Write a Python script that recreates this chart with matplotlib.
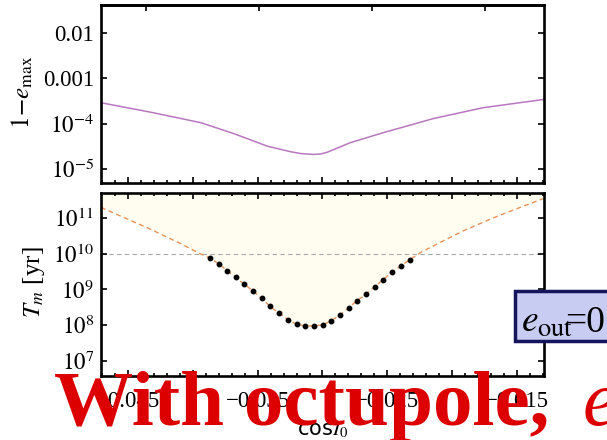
import numpy as np
import matplotlib
matplotlib.use("Agg")
import matplotlib.pyplot as plt
from matplotlib.patches import Rectangle
from matplotlib.ticker import FixedLocator, FixedFormatter, NullFormatter, LogLocator

plt.rcParams['font.family'] = ['Liberation Serif', 'DejaVu Serif']
plt.rcParams['mathtext.fontset'] = 'stix'

# upper panel: 1 - e_max vs cos I0
cos_top = [-0.04708, -0.04323, -0.03938, -0.03685, -0.03423, -0.03246, -0.03169,
           -0.03069, -0.03015, -0.02962, -0.02877, -0.02785, -0.02531, -0.02146, -0.01762, -0.01300]
log_emax = [-3.54, -3.75, -3.98, -4.22, -4.50, -4.62, -4.66,
            -4.68, -4.67, -4.63, -4.53, -4.42, -4.20, -3.89, -3.65, -3.47]

# lower panel: timescale curve (dashed) and sampled points (dots)
cos_curve = [-0.04708, -0.04685, -0.04323, -0.04092, -0.03938]
log_curve = [11.30, 11.26, 10.68, 10.28, 9.99]
cos_dots = [-0.03867, -0.03798, -0.03733, -0.03669, -0.03605, -0.03533, -0.03469, -0.03405,
            -0.03333, -0.03267, -0.03200, -0.03136, -0.03067, -0.02998, -0.02931, -0.02862,
            -0.02798, -0.02733, -0.02664, -0.02598, -0.02533, -0.02462, -0.02395, -0.02328]
log_dots = [9.88, 9.71, 9.52, 9.34, 9.15, 8.95, 8.75, 8.53,
            8.33, 8.16, 8.03, 7.98, 7.98, 8.01, 8.13, 8.29,
            8.49, 8.69, 8.87, 9.08, 9.27, 9.49, 9.66, 9.83]
cos_right = [-0.02246, -0.02069, -0.01915, -0.01685, -0.01531, -0.01300]
log_right = [10.03, 10.36, 10.64, 11.00, 11.22, 11.54]

x_ticks = [-0.045, -0.04, -0.035, -0.03, -0.025, -0.02, -0.015]
x_labels = ['\u22120.045', '', '\u22120.035', '', '\u22120.025', '', '\u22120.015']
top_deg = [92.5, 92.0, 91.5, 91.0]

xmin, xmax = -0.04708, -0.01292

fig = plt.figure(figsize=(6.07, 4.40), dpi=100)
ax1 = fig.add_axes([0.1664, 0.5841, 0.7298, 0.4045])
ax2 = fig.add_axes([0.1664, 0.1455, 0.7298, 0.4159])

ax1.plot(cos_top, 10 ** np.array(log_emax), color='#B878C0', lw=1.1)
ax1.set_yscale('log')
ax1.set_ylim(10 ** -5.31, 10 ** -1.385)
ax1.yaxis.set_major_locator(FixedLocator([1e-5, 1e-4, 1e-3, 1e-2]))
ax1.yaxis.set_major_formatter(FixedFormatter([r'$10^{-5}$', r'$10^{-4}$', '0.001', '0.01']))
ax1.set_ylabel(r'$1\!-\!e_{\max}$', fontsize=18)
ax1.yaxis.set_label_coords(-0.15, 0.51)

xc = np.concatenate([cos_curve, cos_dots, cos_right])
yc = 10 ** np.concatenate([log_curve, log_dots, log_right])
ax2.set_yscale('log')
ax2.set_ylim(10 ** 6.58, 10 ** 11.70)
ax2.fill_between(xc, yc, 10 ** 12, color='#FFFDF0', lw=0, zorder=0)
ax2.axhline(1e10, color='#A8A8A8', lw=0.8, ls=(0, (4, 3)), zorder=1)
ax2.plot(xc, yc, color='#E8935A', lw=1.0, ls=(0, (3.5, 2.5)), zorder=2)
ax2.plot(cos_dots, 10 ** np.array(log_dots), 'o', color='black', ms=3.2, zorder=3)
ax2.yaxis.set_major_locator(FixedLocator([1e7, 1e8, 1e9, 1e10, 1e11]))
ax2.yaxis.set_major_formatter(FixedFormatter([r'$10^{7}$', r'$10^{8}$', r'$10^{9}$',
                                              r'$10^{10}$', r'$10^{11}$']))
ax2.set_ylabel(r'$T_m$ [yr]', fontsize=18)
ax2.yaxis.set_label_coords(-0.121, 0.514)

for ax in (ax1, ax2):
    ax.set_xlim(xmin, xmax)
    ax.xaxis.set_major_locator(FixedLocator(x_ticks))
    ax.xaxis.set_minor_locator(FixedLocator(np.arange(-0.047, -0.0125, 0.001)))
    ax.yaxis.set_minor_locator(LogLocator(base=10, subs=np.arange(2, 10)))
    ax.yaxis.set_minor_formatter(NullFormatter())
    ax.tick_params(which='both', direction='in', right=True, top=True, labelsize=16.5, width=1.2)
    ax.tick_params(which='major', length=4.5)
    ax.tick_params(which='minor', length=2.2)
    ax.tick_params(axis='y', which='minor', length=0)
    ax.tick_params(axis='y', pad=5)
    for s in ax.spines.values():
        s.set_linewidth(1.9)

ax1.xaxis.set_major_formatter(NullFormatter())
ax2.xaxis.set_major_formatter(FixedFormatter(x_labels))
ax2.tick_params(axis='x', pad=11)
ax2.set_xlabel(r'cos$I_0$', fontsize=15, family='DejaVu Sans')
ax2.xaxis.set_label_coords(0.5, -0.24)

# top axis of upper panel marks inclination in degrees
sec = ax1.secondary_xaxis('top', functions=(lambda c: c, lambda c: c))
sec.set_xticks(np.cos(np.radians(top_deg)))
sec.tick_params(direction='in', length=4.5, width=1.2, labeltop=False)
sec.spines['top'].set_linewidth(1.9)
ax1.tick_params(axis='x', which='both', top=False)

# slide overlay: title text and parameter box
fig.text(54 / 607, 15 / 440, 'With octupole,', fontsize=57, fontweight='bold',
         color='#DD0000', va='baseline', ha='left', zorder=10)
fig.text(583 / 607, 15 / 440, 'e', fontsize=57, style='italic',
         color='#DD0000', va='baseline', ha='left', zorder=10)

fig.patches.append(Rectangle((515 / 607, 99 / 440), 0.2, 50 / 440, transform=fig.transFigure,
                             facecolor='#C8CCF2', edgecolor='#15155E', lw=2.5, zorder=9))
fig.text(521 / 607, 108 / 440, r'$e_{\rm out}$', fontsize=27, va='baseline', ha='left', zorder=11)
fig.text(565 / 607, 108 / 440, '=0', fontsize=27, va='baseline', ha='left', zorder=11)

fig.savefig('out.png', dpi=100)
